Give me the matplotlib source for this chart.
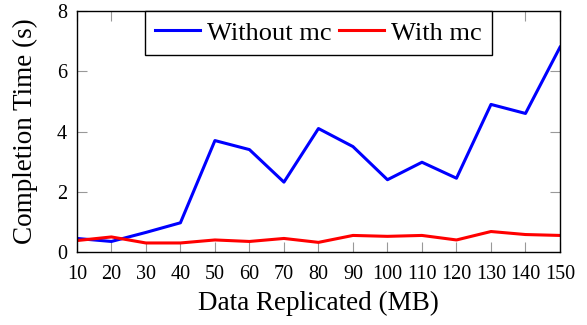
import matplotlib
matplotlib.use('Agg')
import matplotlib.pyplot as plt

# data
sizes = [10, 20, 30, 40, 50, 60, 70, 80, 90, 100, 110, 120, 130, 140, 150]
without_mc = [0.45, 0.35, 0.65, 0.97, 3.7, 3.4, 2.32, 4.1, 3.5, 2.4, 2.98, 2.45, 4.9, 4.6, 6.8]
with_mc = [0.38, 0.5, 0.3, 0.3, 0.4, 0.35, 0.45, 0.32, 0.55, 0.52, 0.55, 0.4, 0.68, 0.58, 0.55]
y_ticks = [0, 2, 4, 6, 8]

plt.rcParams['font.family'] = ['Liberation Serif', 'DejaVu Serif']

fig = plt.figure(figsize=(5.87, 3.25), dpi=100)
ax = fig.add_axes([0.131, 0.2246, 0.823, 0.7414])

ax.plot(sizes, without_mc, color='#0000ff', lw=2.2, label='Without mc')
ax.plot(sizes, with_mc, color='#ff0000', lw=2.2, label='With mc')

ax.set_xlim(10, 150)
ax.set_ylim(0, 8)
ax.set_xticks(sizes)
ax.set_yticks(y_ticks)
ax.tick_params(direction='in', length=7, width=0.8, color='#999999',
               top=True, right=True, labelsize=14.5)
ax.tick_params(axis='x', pad=9)
ax.tick_params(axis='y', pad=7)
for s in ax.spines.values():
    s.set_linewidth(1)

ax.set_xlabel('Data Replicated (MB)', fontsize=19.5)
ax.set_ylabel('Completion Time (s)', fontsize=19.5)
ax.xaxis.set_label_coords(0.5, -0.163)
ax.yaxis.set_label_coords(-0.08, 0.5)

leg = ax.legend(loc='upper center', bbox_to_anchor=(0.5, 1.0), ncol=2,
                fontsize=19, frameon=True, fancybox=False, edgecolor='black',
                framealpha=1, borderaxespad=0, handlelength=1.7,
                columnspacing=0.27, handletextpad=0.27, borderpad=0.38)
leg.get_frame().set_linewidth(1)

fig.savefig('out.png', dpi=100)
